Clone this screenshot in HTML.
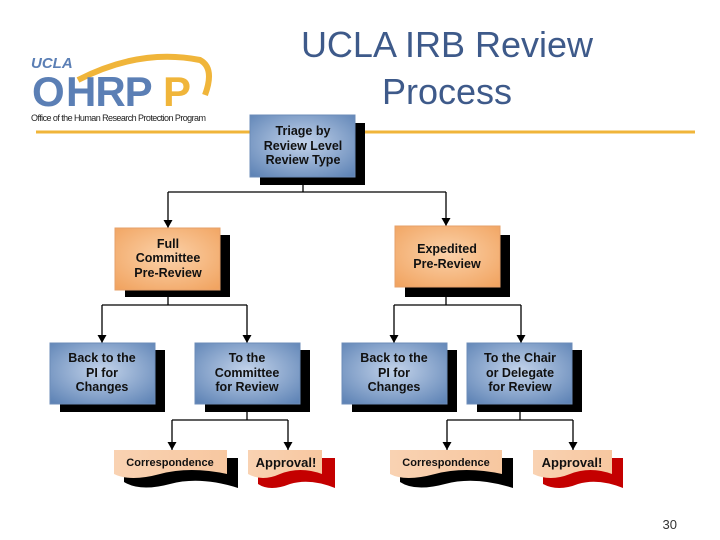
<!DOCTYPE html>
<html><head><meta charset="utf-8"><style>
html,body{margin:0;padding:0;background:#fff;width:720px;height:540px;overflow:hidden}
svg{display:block}
text{font-family:"Liberation Sans",sans-serif}
</style></head><body>
<svg width="720" height="540" viewBox="0 0 720 540">
<defs>
<radialGradient id="bl" cx="50%" cy="45%" r="70%"><stop offset="0" stop-color="#c3d3ea"/><stop offset="1" stop-color="#5f84b6"/></radialGradient>
<radialGradient id="or" cx="50%" cy="45%" r="70%"><stop offset="0" stop-color="#fbd2aa"/><stop offset="1" stop-color="#f1a461"/></radialGradient>
<linearGradient id="pc" x1="0" x2="1"><stop offset="0" stop-color="#f9d2b2"/><stop offset="1" stop-color="#f7c7a0"/></linearGradient>
<marker id="ar" markerWidth="9" markerHeight="9" refX="8" refY="4.5" orient="auto" markerUnits="userSpaceOnUse"><path d="M0,0 L8,4.5 L0,9 Z" fill="#000"/></marker>
</defs>
<!-- title -->
<text x="447" y="57" font-size="36" fill="#3e5a8a" text-anchor="middle">UCLA IRB Review</text>
<text x="447" y="104" font-size="36" fill="#3e5a8a" text-anchor="middle">Process</text>
<!-- logo -->
<path d="M78,80 Q140,48 200,60 Q215,68 205,95" stroke="#f0b53a" stroke-width="6" fill="none"/>
<text x="31" y="68" font-size="15" font-weight="bold" font-style="italic" fill="#5b7fb5">UCLA</text>
<text x="32" y="106" font-size="42" font-weight="bold" fill="#5b7fb5" letter-spacing="-2">O</text>
<text x="66" y="106" font-size="42" font-weight="bold" fill="#5b7fb5" letter-spacing="-1">HRP</text>
<text x="163" y="106" font-size="42" font-weight="bold" fill="#f0b53a">P</text>
<text x="31" y="121" font-size="9" fill="#222" textLength="175">Office of the Human Research Protection Program</text>
<!-- orange rule -->
<line x1="36" y1="132" x2="695" y2="132" stroke="#f0b53a" stroke-width="3"/>
<!-- connectors -->
<g stroke="#000" stroke-width="1.3" fill="none">
<path d="M303,185 V192 M168,192 H446"/>
<path d="M168,192 V228" marker-end="url(#ar)"/><path d="M446,192 V226" marker-end="url(#ar)"/>
<path d="M168,297 V305 M102,305 H247 M394,305 H521 M446,297 V305"/>
<path d="M102,305 V343" marker-end="url(#ar)"/><path d="M247,305 V343" marker-end="url(#ar)"/>
<path d="M394,305 V343" marker-end="url(#ar)"/><path d="M521,305 V343" marker-end="url(#ar)"/>
<path d="M247,412 V420 M172,420 H288 M520,412 V420 M447,420 H573"/>
<path d="M172,420 V450" marker-end="url(#ar)"/><path d="M288,420 V450" marker-end="url(#ar)"/>
<path d="M447,420 V450" marker-end="url(#ar)"/><path d="M573,420 V450" marker-end="url(#ar)"/>
</g>
<!-- boxes -->
<g font-weight="bold" font-size="12.5" text-anchor="middle" fill="#111">
<rect x="260" y="123" width="105" height="62" fill="#000"/><rect x="250" y="115" width="105" height="62" fill="url(#bl)" stroke="#6c8cb8"/>
<text x="303" y="135">Triage by</text><text x="303" y="150">Review Level</text><text x="303" y="164">Review Type</text>
<rect x="125" y="235" width="105" height="62" fill="#000"/><rect x="115" y="228" width="105" height="62" fill="url(#or)" stroke="#e6a06a"/>
<text x="168" y="248">Full</text><text x="168" y="262">Committee</text><text x="168" y="277">Pre-Review</text>
<rect x="405" y="235" width="105" height="62" fill="#000"/><rect x="395" y="226" width="105" height="61" fill="url(#or)" stroke="#e6a06a"/>
<text x="447" y="253">Expedited</text><text x="447" y="268">Pre-Review</text>
<rect x="60" y="350" width="105" height="62" fill="#000"/><rect x="50" y="343" width="105" height="61" fill="url(#bl)" stroke="#6c8cb8"/>
<text x="102" y="362">Back to the</text><text x="102" y="377">PI for</text><text x="102" y="391">Changes</text>
<rect x="205" y="350" width="105" height="62" fill="#000"/><rect x="195" y="343" width="105" height="61" fill="url(#bl)" stroke="#6c8cb8"/>
<text x="247" y="362">To the</text><text x="247" y="377">Committee</text><text x="247" y="391">for Review</text>
<rect x="352" y="350" width="105" height="62" fill="#000"/><rect x="342" y="343" width="105" height="61" fill="url(#bl)" stroke="#6c8cb8"/>
<text x="394" y="362">Back to the</text><text x="394" y="377">PI for</text><text x="394" y="391">Changes</text>
<rect x="477" y="350" width="105" height="62" fill="#000"/><rect x="467" y="343" width="105" height="61" fill="url(#bl)" stroke="#6c8cb8"/>
<text x="520" y="362">To the Chair</text><text x="520" y="377">or Delegate</text><text x="520" y="391">for Review</text>
</g>
<!-- documents -->
<g font-weight="bold" text-anchor="middle" fill="#111">
<path d="M124,458 H238 V488 Q200,476 170,484 Q140,492 124,482 Z" fill="#000"/>
<path d="M114,450 H227 V474 Q190,466 160,474 Q130,482 114,474 Z" fill="url(#pc)"/>
<text x="170" y="466" font-size="11">Correspondence</text>
<path d="M258,458 H335 V488 Q310,478 290,484 Q270,492 258,484 Z" fill="#c40000"/>
<path d="M248,450 H322 V474 Q300,466 280,474 Q262,482 248,474 Z" fill="url(#pc)"/>
<text x="286" y="467" font-size="13">Approval!</text>
<path d="M400,458 H513 V488 Q475,476 445,484 Q415,492 400,482 Z" fill="#000"/>
<path d="M390,450 H502 V474 Q465,466 435,474 Q405,482 390,474 Z" fill="url(#pc)"/>
<text x="446" y="466" font-size="11">Correspondence</text>
<path d="M543,458 H623 V488 Q598,478 578,484 Q558,492 543,484 Z" fill="#c40000"/>
<path d="M533,450 H612 V474 Q590,466 570,474 Q550,482 533,474 Z" fill="url(#pc)"/>
<text x="572" y="467" font-size="13">Approval!</text>
</g>
<text x="677" y="529" font-size="13" fill="#333" text-anchor="end">30</text>
</svg>
</body></html>
